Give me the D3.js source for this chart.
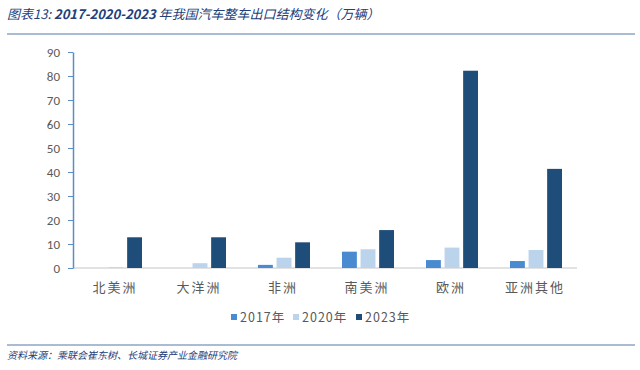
<!DOCTYPE html>
<html>
<head>
<meta charset="utf-8">
<script src="https://cdn.jsdelivr.net/npm/d3@7"></script>
<style>
  body { margin: 0; background: #fff; }
  svg { display: block; font-family: "Noto Sans CJK SC", "Noto Sans", sans-serif; }
</style>
</head>
<body>
<div id="chart"></div>
<script>
var regions = ["北美洲", "大洋洲", "非洲", "南美洲", "欧洲", "亚洲其他"];
var years = ["2017年", "2020年", "2023年"];
var v2017 = [0, 0, 1.3, 6.8, 3.3, 2.9];
var v2020 = [0.3, 2.0, 4.3, 7.8, 8.5, 7.5];
var v2023 = [12.8, 12.8, 10.7, 15.8, 82.2, 41.3];
var yTicks = [0, 10, 20, 30, 40, 50, 60, 70, 80, 90];
var colors = ["#4a8ad0", "#bcd3ec", "#1f4d7a"];

var W = 640, H = 370;
var margin = {top: 52, right: 63, bottom: 102, left: 73}
  , width = W - margin.left - margin.right
  , height = H - margin.top - margin.bottom;

var series = [v2017, v2020, v2023];

var svg = d3.select("#chart").append("svg")
    .attr("width", W)
    .attr("height", H);

// title and rules
var title = svg.append("text")
    .attr("x", 7)
    .attr("y", 19)
    .style("font-size", "13px")
    .style("font-style", "italic")
    .style("fill", "#23407a");
title.append("tspan").text("图表13:  ");
title.append("tspan").style("font-weight", "bold").text("2017-2020-2023");
title.append("tspan").text(" 年我国汽车整车出口结构变化（万辆）");

svg.append("line").attr("x1", 7).attr("x2", 635).attr("y1", 34).attr("y2", 34)
    .style("stroke", "#8ea6c4").style("stroke-width", 1.5);
svg.append("line").attr("x1", 7).attr("x2", 635).attr("y1", 345).attr("y2", 345)
    .style("stroke", "#8ea6c4").style("stroke-width", 1.5);

svg.append("text")
    .attr("x", 7)
    .attr("y", 359)
    .style("font-size", "10px")
    .style("font-style", "italic")
    .style("fill", "#23407a")
    .text("资料来源：乘联会崔东树、长城证券产业金融研究院");

var g = svg.append("g")
    .attr("transform", "translate(" + margin.left + "," + margin.top + ")");

var xScale = d3.scaleBand().domain(regions).range([0, width]);
var xInner = d3.scaleBand().domain(years).range([xScale.bandwidth() / 2 - 25, xScale.bandwidth() / 2 + 27]).paddingInner(0.2);
var yScale = d3.scaleLinear().domain([0, 90]).range([height, 0]);

// x axis baseline
g.append("line").attr("x1", 0).attr("x2", width).attr("y1", height).attr("y2", height)
    .style("stroke", "#d9d9d9").style("stroke-width", 1.5);

// bars
series.forEach(function(vals, si) {
  g.selectAll(null).data(vals).enter().append("rect")
      .attr("x", function(d, i) { return xScale(regions[i]) + xInner(years[si]); })
      .attr("y", function(d) { return yScale(d); })
      .attr("width", xInner.bandwidth())
      .attr("height", function(d) { return height - yScale(d); })
      .style("fill", colors[si]);
});

// y axis
var yAxis = g.append("g")
    .call(d3.axisLeft(yScale).tickValues(yTicks).tickSize(5).tickPadding(8).tickSizeOuter(0));
yAxis.select(".domain").style("stroke", "#5b8cc6").style("stroke-width", 1.5);
yAxis.selectAll(".tick line").style("stroke", "#5b8cc6");
yAxis.selectAll(".tick text").style("font-size", "13px").style("fill", "#595959")
    .style("font-family", "Calibri, Carlito, 'Liberation Sans', sans-serif");

// category labels
g.selectAll(".cat").data(regions).enter().append("text")
    .attr("class", "cat")
    .attr("x", function(d) { return xScale(d) + xScale.bandwidth() / 2; })
    .attr("y", height + 24)
    .attr("text-anchor", "middle")
    .style("font-size", "13px")
    .style("letter-spacing", "2px")
    .style("fill", "#595959")
    .text(function(d) { return d; });

// legend
var legendX = [231, 293, 356];
years.forEach(function(y, i) {
  svg.append("rect").attr("x", legendX[i]).attr("y", 314).attr("width", 6).attr("height", 6)
      .style("fill", colors[i]);
  svg.append("text").attr("x", legendX[i] + 9).attr("y", 322)
      .style("font-size", "12.5px").style("letter-spacing", "1px").style("fill", "#595959")
      .text(y);
});
</script>
</body>
</html>
